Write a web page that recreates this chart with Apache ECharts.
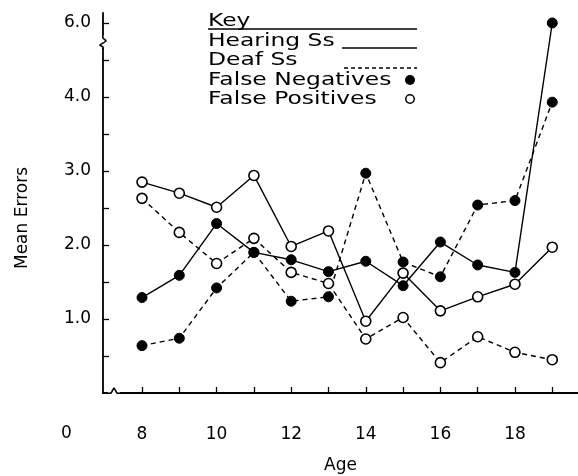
<!DOCTYPE html>
<html>
<head>
<meta charset="utf-8">
<script src="https://cdn.jsdelivr.net/npm/echarts@6/dist/echarts.min.js"></script>
<style>html,body{margin:0;padding:0;background:#fff}#c{width:578px;height:476px}</style>
</head>
<body>
<div id="c"></div>
<script>
// ---- data ----
const ages = [8, 9, 10, 11, 12, 13, 14, 15, 16, 17, 18, 19];
const hearingFN = [1.29, 1.59, 2.29, 1.90, 1.80, 1.64, 1.78, 1.45, 2.04, 1.73, 1.63, 6.0];
const hearingFP = [2.85, 2.70, 2.51, 2.94, 1.98, 2.19, 0.97, 1.62, 1.11, 1.30, 1.47, 1.97];
const deafFN = [0.64, 0.74, 1.42, 1.90, 1.24, 1.30, 2.97, 1.77, 1.57, 2.54, 2.60, 3.93];
const deafFP = [2.63, 2.17, 1.75, 2.09, 1.63, 1.48, 0.73, 1.02, 0.41, 0.76, 0.55, 0.45];
const xTickValues = [8, 9, 10, 11, 12, 13, 14, 15, 16, 17, 18, 19];
const xLabelValues = [8, 10, 12, 14, 16, 18];
const yLabelValues = [1.0, 2.0, 3.0, 4.0, 6.0];
const yTickValues = [0.5, 1.0, 1.5, 2.0, 2.5, 3.0, 3.5, 4.0, 4.5, 6.0];
const keyLabels = ['Key', 'Hearing Ss', 'Deaf Ss', 'False Negatives', 'False Positives'];

// broken y axis: values above the break (between 4.5 and 6.0) are shifted down by 1
const BREAK_SHIFT = 1;
function disp(v) { return v > 4.75 ? v - BREAK_SHIFT : v; }
function undisp(v) { return v > 4.75 ? v + BREAK_SHIFT : v; }
function pairs(vals) { return ages.map((a, i) => [a, disp(vals[i])]); }

const FONT = 'DejaVu Sans';
const chart = echarts.init(document.getElementById('c'), null, {renderer: 'canvas'});

function lineSeries(name, vals, dashed, filled) {
  return {
    name: name, type: 'line', data: pairs(vals),
    symbol: 'circle', symbolSize: 10,
    lineStyle: {color: '#000', width: 1.4, type: dashed ? [5, 4] : 'solid'},
    itemStyle: filled ? {color: '#000', borderColor: '#000', borderWidth: 1}
                      : {color: '#fff', borderColor: '#000', borderWidth: 1.6},
    emphasis: {disabled: true},
    z: 3
  };
}

const legendX = 208;
const keyRowsY = [21, 41, 60, 80, 99];
function keyText(i) {
  return {type: 'text', x: legendX, y: keyRowsY[i], scaleX: 1.3, originX: 0, originY: 0,
    style: {text: keyLabels[i], font: '18px "DejaVu Sans"', fill: '#000', textVerticalAlign: 'middle'}};
}

const option = {
  animation: false,
  backgroundColor: '#fff',
  grid: {left: 103, right: 0, top: 13, bottom: 83, outerBoundsMode: 'none', containLabel: false},
  xAxis: {
    type: 'value', min: 6.954, max: 19.69,
    name: 'Age', nameLocation: 'middle', nameGap: 64,
    nameTextStyle: {fontFamily: FONT, fontSize: 17, color: '#000'},
    axisLine: {show: true, lineStyle: {color: '#000', width: 1.8}},
    axisTick: {show: true, inside: true, length: 6, customValues: xTickValues, lineStyle: {color: '#000', width: 1.3}},
    axisLabel: {customValues: xLabelValues, margin: 33, fontFamily: FONT, fontSize: 17, color: '#000'},
    splitLine: {show: false}
  },
  yAxis: {
    type: 'value', min: 0, max: 5.135,
    name: 'Mean Errors', nameLocation: 'middle', nameGap: 72,
    nameTextStyle: {fontFamily: FONT, fontSize: 17, color: '#000', padding: [0, 30, 0, 0]},
    axisLine: {show: true, lineStyle: {color: '#000', width: 1.8}},
    axisTick: {show: true, inside: true, length: 6, customValues: yTickValues.map(disp), lineStyle: {color: '#000', width: 1.3}},
    axisLabel: {customValues: yLabelValues.map(disp), margin: 12, fontFamily: FONT, fontSize: 17, color: '#000',
      formatter: v => undisp(v).toFixed(1)},
    splitLine: {show: false}
  },
  series: [
    lineSeries('Hearing FP', hearingFP, false, false),
    lineSeries('Deaf FP', deafFP, true, false),
    lineSeries('Deaf FN', deafFN, true, true),
    lineSeries('Hearing FN', hearingFN, false, true)
  ],
  graphic: [
    // "0" origin label
    {type: 'text', left: 61, top: 425, style: {text: '0', font: '17px "DejaVu Sans"', fill: '#000'}},
    // y-axis break
    {type: 'rect', shape: {x: 100, y: 35, width: 8, height: 13}, style: {fill: '#fff'}, z: 10},
    {type: 'polyline', shape: {points: [[103, 34], [103, 38], [106, 41], [100, 45], [103, 47], [103, 49]], smooth: 0.3},
      style: {stroke: '#000', lineWidth: 1.6, fill: null}, z: 11},
    // x-axis break
    {type: 'rect', shape: {x: 108, y: 390, width: 12, height: 6}, style: {fill: '#fff'}, z: 10},
    {type: 'polyline', shape: {points: [[107, 393], [111, 393], [114, 388], [117, 393], [121, 393]], smooth: 0.2},
      style: {stroke: '#000', lineWidth: 1.6, fill: null}, z: 11},
    // key
    keyText(0),
    {type: 'line', shape: {x1: legendX, y1: 29, x2: 417, y2: 29}, style: {stroke: '#000', lineWidth: 1.4}},
    keyText(1),
    {type: 'line', shape: {x1: 342, y1: 48, x2: 417, y2: 48}, style: {stroke: '#000', lineWidth: 1.4}},
    keyText(2),
    {type: 'line', shape: {x1: 344, y1: 68, x2: 417, y2: 68}, style: {stroke: '#000', lineWidth: 1.4, lineDash: [4, 3]}},
    keyText(3),
    {type: 'circle', shape: {cx: 410, cy: 80, r: 5}, style: {fill: '#000'}},
    keyText(4),
    {type: 'circle', shape: {cx: 410, cy: 99, r: 4.2}, style: {fill: '#fff', stroke: '#000', lineWidth: 1.5}}
  ]
};
chart.setOption(option);
</script>
</body>
</html>
